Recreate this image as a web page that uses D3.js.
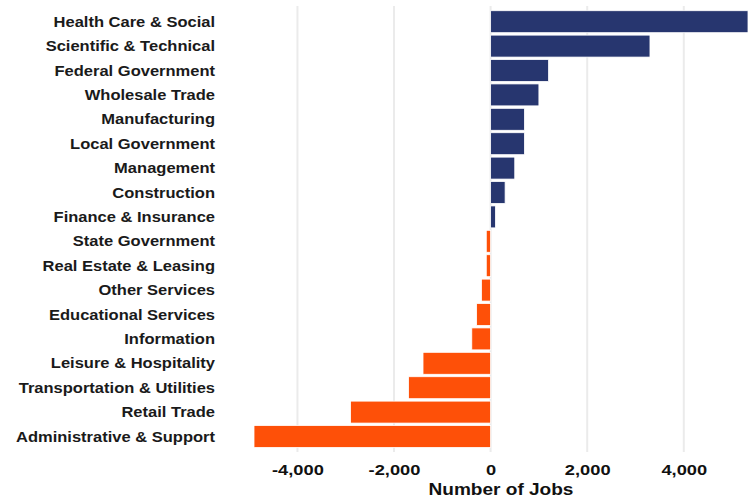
<!DOCTYPE html>
<html>
<head>
  <meta charset="utf-8">
  <title>Job change by sector</title>
  <style>
    body { margin: 0; background: #fff; }
    svg { display: block; }
    .cat text { font: bold 14px "Liberation Sans", Arial, sans-serif; fill: #1a1a1a; }
    .xaxis text { font: bold 15px "Liberation Sans", Arial, sans-serif; fill: #111; }
    .title { font: bold 16px "Liberation Sans", Arial, sans-serif; fill: #111; }
  </style>
</head>
<body>
  <script src="https://d3js.org/d3.v7.min.js"></script>
  <script>
    const sectors = [
      "Health Care & Social", "Scientific & Technical", "Federal Government",
      "Wholesale Trade", "Manufacturing", "Local Government", "Management",
      "Construction", "Finance & Insurance", "State Government",
      "Real Estate & Leasing", "Other Services", "Educational Services",
      "Information", "Leisure & Hospitality", "Transportation & Utilities",
      "Retail Trade", "Administrative & Support"
    ];
    const jobs = [5330, 3300, 1200, 1000, 700, 700, 500, 300, 100, -90,
                  -90, -190, -290, -390, -1400, -1700, -2900, -4900];
    const ticks = [-4000, -2000, 0, 2000, 4000];

    const width = 755, height = 496;
    const svg = d3.select("body").append("svg")
      .attr("width", width).attr("height", height);

    const x = d3.scaleLinear().domain([d3.min(jobs), d3.max(jobs)]).range([254, 748]);
    const y = d3.scaleBand().domain(sectors).range([9.5, 448.7]).paddingInner(0.1).paddingOuter(0.05);

    // grid
    svg.append("g").selectAll("line")
      .data(ticks)
      .join("line")
      .attr("x1", d => x(d)).attr("x2", d => x(d))
      .attr("y1", 6).attr("y2", 452)
      .attr("stroke", "#ebebeb").attr("stroke-width", 2);

    // bars
    svg.append("g").selectAll("rect")
      .data(sectors)
      .join("rect")
      .attr("x", (d, i) => x(Math.min(0, jobs[i])))
      .attr("width", (d, i) => Math.abs(x(jobs[i]) - x(0)))
      .attr("y", d => y(d))
      .attr("height", y.bandwidth())
      .attr("fill", (d, i) => jobs[i] >= 0 ? "#27366f" : "#fe5008")
      .attr("stroke", "#fff").attr("stroke-width", 0.8);

    // category labels (the original text is a bit wide, so stretch it)
    svg.append("g").attr("class", "cat").selectAll("text")
      .data(sectors)
      .join("text")
      .attr("transform", d => `translate(215,${y(d) + y.bandwidth() / 2 + 5}) scale(1.18,1)`)
      .attr("text-anchor", "end")
      .text(d => d);

    // x axis
    const fmt = d3.format(",");
    const xAxis = d3.axisBottom(x).tickValues(ticks).tickSize(0).tickPadding(0)
      .tickFormat(d => fmt(d).replace("−", "-"));
    const gx = svg.append("g").attr("class", "xaxis").call(xAxis);
    gx.select(".domain").remove();
    gx.selectAll("text")
      .attr("font-family", null).attr("font-size", null)
      .attr("dy", null).attr("y", null)
      .attr("transform", "translate(0,474.5) scale(1.22,1)");

    svg.append("text").attr("class", "title")
      .attr("transform", `translate(${(x.range()[0] + x.range()[1]) / 2},494.5) scale(1.19,1)`)
      .attr("text-anchor", "middle")
      .text("Number of Jobs");
  </script>
</body>
</html>
